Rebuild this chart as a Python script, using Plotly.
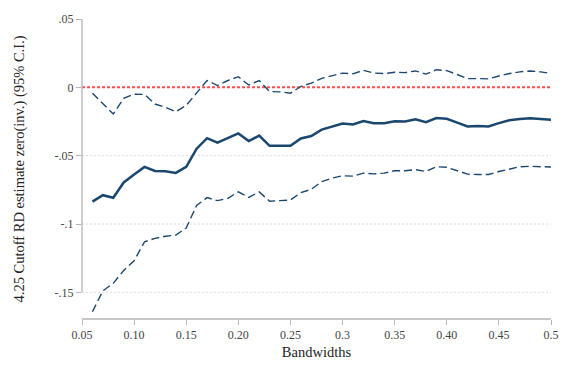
import plotly.graph_objects as go

# Bandwidths used for the RD estimates
bandwidths = [round(0.06 + 0.01 * i, 2) for i in range(45)]

# Point estimates
estimate = [
    -0.0836, -0.0789, -0.0808, -0.0696, -0.0638, -0.0582, -0.0612, -0.0614, -0.0626, -0.0582,
    -0.0449, -0.0372, -0.0404, -0.0372, -0.0337, -0.0393, -0.0353, -0.0428, -0.0426, -0.0428,
    -0.0374, -0.0356, -0.0309, -0.0286, -0.0265, -0.0272, -0.0246, -0.0262, -0.0262, -0.0248,
    -0.0250, -0.0234, -0.0255, -0.0225, -0.0230, -0.0258, -0.0286, -0.0283, -0.0286, -0.0262,
    -0.0241, -0.0232, -0.0227, -0.0232, -0.0237,
]

# Upper bound of the 95% confidence interval
ci_upper = [
    -0.0043, -0.0120, -0.0195, -0.0080, -0.0050, -0.0052, -0.0122, -0.0146, -0.0178, -0.0132,
    -0.0038, 0.0050, 0.0013, 0.0050, 0.0078, 0.0017, 0.0050, -0.0031, -0.0033, -0.0043,
    0.0006, 0.0031, 0.0066, 0.0085, 0.0104, 0.0099, 0.0125, 0.0104, 0.0101, 0.0110,
    0.0108, 0.0120, 0.0097, 0.0129, 0.0122, 0.0094, 0.0064, 0.0064, 0.0062, 0.0083,
    0.0101, 0.0113, 0.0120, 0.0113, 0.0101,
]

# Lower bound of the 95% confidence interval
ci_lower = [
    -0.1642, -0.1489, -0.1434, -0.1340, -0.1269, -0.1130, -0.1105, -0.1090, -0.1081, -0.1029,
    -0.0864, -0.0807, -0.0829, -0.0812, -0.0765, -0.0805, -0.0765, -0.0833, -0.0829, -0.0824,
    -0.0770, -0.0746, -0.0690, -0.0664, -0.0647, -0.0650, -0.0628, -0.0633, -0.0628, -0.0610,
    -0.0610, -0.0602, -0.0616, -0.0581, -0.0585, -0.0612, -0.0635, -0.0638, -0.0638, -0.0616,
    -0.0598, -0.0581, -0.0578, -0.0583, -0.0583,
]

x_tick_vals = [0.05, 0.10, 0.15, 0.20, 0.25, 0.30, 0.35, 0.40, 0.45, 0.50]
x_tick_text = ["0.05", "0.10", "0.15", "0.20", "0.25", "0.3", "0.35", "0.40", "0.45", "0.5"]
y_tick_vals = [0.05, 0.0, -0.05, -0.10, -0.15]
y_tick_text = [".05", "0", "-.05", "-.1", "-.15"]

NAVY = "#1a476f"
AXIS = "#b4b4b4"
FONT = "Liberation Serif"

fig = go.Figure()

fig.add_trace(go.Scatter(
    x=bandwidths, y=ci_upper, mode="lines",
    line=dict(color=NAVY, width=1.4, dash="8px,4px"), cliponaxis=False,
))
fig.add_trace(go.Scatter(
    x=bandwidths, y=ci_lower, mode="lines",
    line=dict(color=NAVY, width=1.4, dash="8px,4px"), cliponaxis=False,
))
fig.add_trace(go.Scatter(
    x=bandwidths, y=estimate, mode="lines",
    line=dict(color=NAVY, width=2.5), cliponaxis=False,
))

shapes = []
# dotted gridlines
for v in [-0.05, -0.10, -0.15]:
    shapes.append(dict(type="line", xref="paper", yref="y", x0=0, x1=1, y0=v, y1=v,
                       line=dict(color="#dcdcdc", width=1, dash="2px,2px"), layer="below"))
# zero reference line
shapes.append(dict(type="line", xref="paper", yref="y", x0=0, x1=1, y0=0, y1=0,
                   line=dict(color="#ff5050", width=2, dash="3px,2px"), layer="below"))
# axis lines spanning the tick range
shapes.append(dict(type="line", xref="paper", yref="y", x0=0, x1=0, y0=-0.15, y1=0.05,
                   line=dict(color=AXIS, width=1.3)))
shapes.append(dict(type="line", xref="x", yref="paper", x0=0.05, x1=0.5, y0=0, y1=0,
                   line=dict(color=AXIS, width=1.3)))

fig.update_layout(
    width=571, height=370,
    margin=dict(l=82, r=20, t=14, b=44),
    paper_bgcolor="white", plot_bgcolor="white",
    showlegend=False,
    font=dict(family=FONT, color="#333333"),
    shapes=shapes,
    xaxis=dict(
        range=[0.05, 0.5], showgrid=False, zeroline=False, showline=False,
        tickvals=x_tick_vals, ticktext=x_tick_text,
        ticks="outside", ticklen=5, tickcolor=AXIS, tickwidth=1.2,
        tickfont=dict(family=FONT, size=12, color="#444444"),
        title=dict(text="Bandwidths", font=dict(family=FONT, size=14.5, color="#222222"), standoff=5),
    ),
    yaxis=dict(
        range=[-0.1695, 0.05], showgrid=False, zeroline=False, showline=False,
        tickvals=y_tick_vals, ticktext=y_tick_text,
        ticks="outside", ticklen=5, tickcolor=AXIS, tickwidth=1.2,
        tickfont=dict(family=FONT, size=12, color="#444444"),
        title=dict(text="4.25 Cutoff RD estimate zero(inv.) (95% C.I.)",
                   font=dict(family=FONT, size=14.5, color="#222222"), standoff=26),
    ),
)

fig.write_html("out.html")
